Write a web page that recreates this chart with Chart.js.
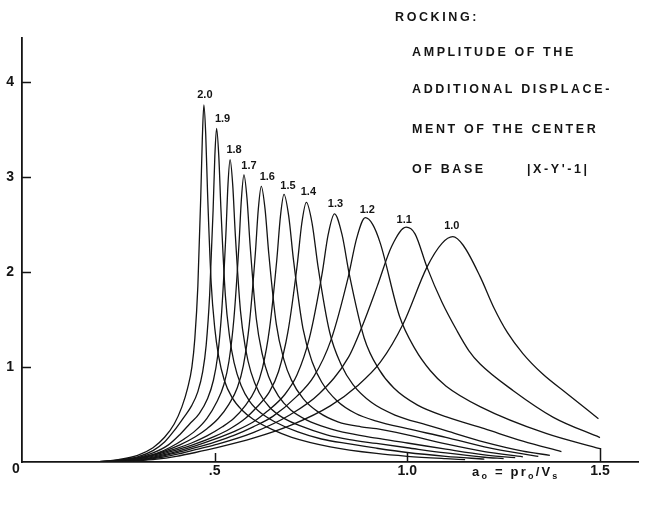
<!DOCTYPE html>
<html>
<head>
<meta charset="utf-8">
<title>Rocking: amplitude of the additional displacement of the center of base</title>
<script src="https://cdn.jsdelivr.net/npm/chart.js@4.4.1/dist/chart.umd.min.js"></script>
<style>
  html, body { margin: 0; padding: 0; background: #fff; }
  canvas { display: block; }
</style>
</head>
<body>
<canvas id="c" width="647" height="516"></canvas>
<script>
// Dimensionless frequency a0 (x) against amplitude |X - Y' - 1| (y),
// one curve per parameter value 2.0 ... 1.0.
const b20 = [[0.10,0],[0.20,0.005],[0.25,0.025],[0.30,0.07],[0.34,0.15],[0.37,0.26],[0.395,0.40],[0.415,0.58],[0.43,0.78],[0.441,1.0],[0.4486,1.3],[0.4564,1.85],[0.464,2.8],[0.468,3.4],[0.472,3.755],[0.4768,3.45],[0.4815,2.84],[0.491,1.88],[0.5005,1.40],[0.51,1.12],[0.525,0.86],[0.545,0.68],[0.57,0.55],[0.60,0.45],[0.65,0.34],[0.70,0.26],[0.80,0.16],[0.92,0.09],[1.0,0.06],[1.1,0.035],[1.15,0.025]];
const b19 = [[0.10,0],[0.20,0.004],[0.25,0.02],[0.30,0.055],[0.34,0.12],[0.37,0.21],[0.395,0.33],[0.42,0.47],[0.44,0.59],[0.4564,0.74],[0.469,0.95],[0.478,1.23],[0.487,1.755],[0.496,2.65],[0.5005,3.22],[0.505,3.51],[0.5107,3.22],[0.5164,2.65],[0.5277,1.755],[0.539,1.31],[0.5504,1.046],[0.5686,0.804],[0.5913,0.635],[0.6208,0.512],[0.657,0.421],[0.716,0.316],[0.777,0.242],[0.85,0.19],[0.92,0.145],[1.0,0.10],[1.1,0.06],[1.2,0.03]];
const b18 = [[0.10,0],[0.20,0.003],[0.25,0.016],[0.30,0.045],[0.34,0.095],[0.38,0.18],[0.41,0.29],[0.435,0.40],[0.46,0.51],[0.4817,0.668],[0.4968,0.86],[0.5076,1.11],[0.5184,1.59],[0.5292,2.40],[0.5346,2.92],[0.54,3.18],[0.5468,2.92],[0.5535,2.40],[0.567,1.59],[0.5805,1.186],[0.594,0.948],[0.6156,0.728],[0.6426,0.576],[0.6777,0.464],[0.721,0.382],[0.791,0.286],[0.85,0.235],[0.92,0.195],[1.0,0.15],[1.1,0.095],[1.2,0.05],[1.25,0.035]];
const b17 = [[0.10,0],[0.20,0.002],[0.25,0.013],[0.30,0.038],[0.35,0.09],[0.385,0.155],[0.42,0.24],[0.45,0.33],[0.48,0.46],[0.5058,0.634],[0.524,0.815],[0.537,1.057],[0.55,1.51],[0.563,2.28],[0.5695,2.77],[0.576,3.02],[0.584,2.77],[0.592,2.28],[0.608,1.51],[0.624,1.126],[0.64,0.90],[0.6656,0.692],[0.6976,0.547],[0.7392,0.441],[0.7904,0.362],[0.85,0.30],[0.92,0.25],[1.0,0.20],[1.1,0.135],[1.2,0.075],[1.28,0.045]];
const b16 = [[0.10,0],[0.22,0.005],[0.28,0.025],[0.33,0.065],[0.37,0.115],[0.41,0.18],[0.45,0.265],[0.48,0.35],[0.51,0.46],[0.5373,0.609],[0.559,0.783],[0.5745,1.015],[0.59,1.45],[0.6055,2.19],[0.6133,2.66],[0.621,2.90],[0.6308,2.66],[0.6405,2.19],[0.66,1.45],[0.6795,1.08],[0.699,0.864],[0.7302,0.664],[0.7692,0.525],[0.8199,0.423],[0.88,0.37],[0.92,0.35],[1.0,0.285],[1.1,0.19],[1.2,0.11],[1.3,0.055]];
const b15 = [[0.10,0],[0.20,0.002],[0.25,0.01],[0.30,0.035],[0.35,0.08],[0.40,0.14],[0.44,0.20],[0.48,0.275],[0.52,0.37],[0.55,0.46],[0.579,0.59],[0.6052,0.76],[0.6239,0.985],[0.6426,1.408],[0.6613,2.128],[0.6707,2.584],[0.68,2.815],[0.6923,2.584],[0.7045,2.128],[0.729,1.408],[0.7535,1.05],[0.778,0.839],[0.8172,0.645],[0.8662,0.51],[0.92,0.43],[1.0,0.35],[1.1,0.26],[1.2,0.16],[1.3,0.085],[1.34,0.06]];
const b14 = [[0.10,0],[0.20,0.002],[0.25,0.009],[0.30,0.03],[0.35,0.07],[0.40,0.125],[0.45,0.19],[0.50,0.27],[0.54,0.35],[0.58,0.46],[0.6084,0.573],[0.642,0.737],[0.666,0.955],[0.69,1.365],[0.714,2.064],[0.726,2.506],[0.738,2.73],[0.7531,2.506],[0.768,2.064],[0.7985,1.365],[0.829,1.018],[0.859,0.814],[0.9074,0.625],[0.9679,0.494],[1.05,0.39],[1.1,0.33],[1.2,0.21],[1.3,0.115],[1.37,0.07]];
const b13 = [[0.10,0],[0.20,0.002],[0.25,0.008],[0.30,0.025],[0.35,0.06],[0.40,0.11],[0.45,0.17],[0.50,0.24],[0.55,0.32],[0.60,0.42],[0.6355,0.53],[0.681,0.705],[0.7135,0.914],[0.746,1.305],[0.7785,1.973],[0.7948,2.396],[0.811,2.61],[0.8303,2.396],[0.8495,1.973],[0.888,1.305],[0.9265,0.974],[0.965,0.778],[1.0266,0.598],[1.1036,0.472],[1.2,0.35],[1.3,0.22],[1.4,0.11]];
const b12 = [[0.10,0],[0.20,0.001],[0.25,0.006],[0.30,0.02],[0.35,0.05],[0.40,0.095],[0.45,0.15],[0.50,0.21],[0.55,0.28],[0.60,0.37],[0.651,0.48],[0.713,0.69],[0.7575,0.90],[0.802,1.285],[0.8465,1.943],[0.869,2.36],[0.891,2.57],[0.91,2.5],[0.93,2.3],[0.98,1.53],[1.02,1.19],[1.06,0.96],[1.10,0.80],[1.19,0.58],[1.36,0.30],[1.5,0.14]];
const b11 = [[0.10,0],[0.20,0.001],[0.25,0.005],[0.30,0.016],[0.35,0.04],[0.40,0.08],[0.45,0.13],[0.50,0.18],[0.60,0.31],[0.697,0.50],[0.772,0.72],[0.847,1.10],[0.885,1.45],[0.922,1.85],[0.9595,2.27],[0.997,2.47],[1.02,2.40],[1.051,2.05],[1.09,1.68],[1.129,1.38],[1.16,1.17],[1.189,1.03],[1.275,0.75],[1.379,0.47],[1.5,0.257]];
const b10 = [[0.10,0],[0.20,0.001],[0.25,0.004],[0.30,0.013],[0.35,0.03],[0.40,0.06],[0.45,0.10],[0.50,0.145],[0.60,0.25],[0.70,0.39],[0.80,0.59],[0.87,0.80],[0.93,1.05],[0.99,1.46],[1.051,2.05],[1.09,2.30],[1.118,2.37],[1.145,2.28],[1.189,1.95],[1.225,1.62],[1.26,1.36],[1.30,1.14],[1.35,0.93],[1.414,0.72],[1.496,0.456]];

const curveNames = ['2.0','1.9','1.8','1.7','1.6','1.5','1.4','1.3','1.2','1.1','1.0'];
const curvePoints = [b20,b19,b18,b17,b16,b15,b14,b13,b12,b11,b10];

const xTicks = [0.5, 1.0, 1.5];
const xTickLabels = ['.5', '1.0', '1.5'];
const yTicks = [1, 2, 3, 4];
const yTickLabels = ['1', '2', '3', '4'];
const originLabel = '0';

const titleLines = ['ROCKING:', 'AMPLITUDE OF THE', 'ADDITIONAL DISPLACE-', 'MENT OF THE CENTER', 'OF BASE'];
const titleFormula = "|X-Y'-1|";

// ---- styling ----
const INK = '#141414';
const FONT = '"Liberation Sans", Arial, sans-serif';
// nudges (px) of each curve's number from the top of its peak
const labelNudge = [[1,-10],[6,-9],[4,-10],[5,-9],[6,-9],[4,-8],[2,-10],[1,-10],[2,-8],[-2,-7],[-1,-11]];

function peakOf(pts) {
  return pts.reduce((m, p) => (p[1] > m[1] ? p : m), pts[0]);
}

function textSpaced(ctx, str, x, y, spacing) {
  if ('letterSpacing' in ctx) {
    ctx.letterSpacing = spacing + 'px';
    ctx.fillText(str, x, y);
    const w = ctx.measureText(str).width;
    ctx.letterSpacing = '0px';
    return w;
  }
  let cx = x;
  for (const ch of str) {
    ctx.fillText(ch, cx, y);
    cx += ctx.measureText(ch).width + spacing;
  }
  return cx - x;
}

const inkPlugin = {
  id: 'ink',
  afterDraw(chart) {
    const { ctx, scales: { x, y } } = chart;
    const x0 = x.getPixelForValue(0);
    const y0 = y.getPixelForValue(0);
    ctx.save();
    ctx.strokeStyle = INK;
    ctx.fillStyle = INK;
    ctx.lineWidth = 1.5;
    ctx.lineCap = 'butt';

    // inward tick marks
    ctx.beginPath();
    yTicks.forEach(v => {
      const py = Math.round(y.getPixelForValue(v)) + 0.5;
      ctx.moveTo(x0, py);
      ctx.lineTo(x0 + 9, py);
    });
    xTicks.forEach((v, i) => {
      const px = Math.round(x.getPixelForValue(v)) + 0.5;
      ctx.moveTo(px, y0);
      ctx.lineTo(px, y0 - (i === 2 ? 14 : 9));
    });
    ctx.stroke();

    // origin label
    ctx.font = 'bold 14px ' + FONT;
    ctx.textAlign = 'center';
    ctx.textBaseline = 'middle';
    ctx.fillText(originLabel, x0 - 6, y0 + 7);

    // curve numbers above the peaks
    ctx.font = 'bold 11px ' + FONT;
    curvePoints.forEach((pts, i) => {
      const pk = peakOf(pts);
      const px = x.getPixelForValue(pk[0]) + labelNudge[i][0];
      const py = y.getPixelForValue(pk[1]) + labelNudge[i][1];
      ctx.fillText(curveNames[i], px, py);
    });

    // caption block, upper right
    ctx.font = 'bold 12.5px ' + FONT;
    ctx.textAlign = 'left';
    ctx.textBaseline = 'middle';
    const rowsY = [18, 53, 90, 130, 170];
    titleLines.forEach((t, i) => {
      textSpaced(ctx, t, i === 0 ? 395 : 412, rowsY[i], 2.6);
    });
    textSpaced(ctx, titleFormula, 527, rowsY[4], 2.6);

    // axis name: a0 = p r0 / Vs
    const base = y0 + 14;
    let cx = 472;
    const big = 'bold 13px ' + FONT, small = 'bold 9px ' + FONT;
    ctx.textBaseline = 'alphabetic';
    const parts = [['a', big, 0], ['o', small, 3], [' = pr', big, 0], ['o', small, 3], ['/V', big, 0], ['s', small, 3]];
    parts.forEach(([s, f, dy]) => {
      ctx.font = f;
      cx += textSpaced(ctx, s, cx, base + dy, 2.2);
    });
    ctx.restore();
  }
};

const datasets = curvePoints.map((pts, i) => ({
  label: curveNames[i],
  data: pts.map(([px, py]) => ({ x: px, y: py })),
  borderColor: INK,
  borderWidth: 1.3,
  pointRadius: 0,
  fill: false,
  cubicInterpolationMode: 'monotone'
}));

new Chart(document.getElementById('c'), {
  type: 'line',
  data: { datasets },
  plugins: [inkPlugin],
  options: {
    responsive: false,
    animation: false,
    devicePixelRatio: 1,
    layout: { padding: { top: 38, right: 8.5, left: 0, bottom: 0 } },
    plugins: { legend: { display: false }, tooltip: { enabled: false } },
    scales: {
      x: {
        type: 'linear',
        min: 0,
        max: 1.6,
        afterFit(s) { s.height = 54; },
        afterBuildTicks(s) { s.ticks = xTicks.map(v => ({ value: v })); },
        ticks: {
          padding: 1,
          color: INK,
          font: { family: FONT, size: 14, weight: 'bold' },
          callback: (v, i) => xTickLabels[i]
        },
        grid: { display: true, drawOnChartArea: false, drawTicks: false },
        border: { display: true, color: INK, width: 1.8 }
      },
      y: {
        type: 'linear',
        min: 0,
        max: 4.46,
        afterFit(s) { s.width = 22; },
        afterBuildTicks(s) { s.ticks = yTicks.map(v => ({ value: v })); },
        ticks: {
          padding: 8,
          color: INK,
          font: { family: FONT, size: 14, weight: 'bold' },
          callback: (v, i) => yTickLabels[i]
        },
        grid: { display: true, drawOnChartArea: false, drawTicks: false },
        border: { display: true, color: INK, width: 1.8 }
      }
    }
  }
});
</script>
</body>
</html>
